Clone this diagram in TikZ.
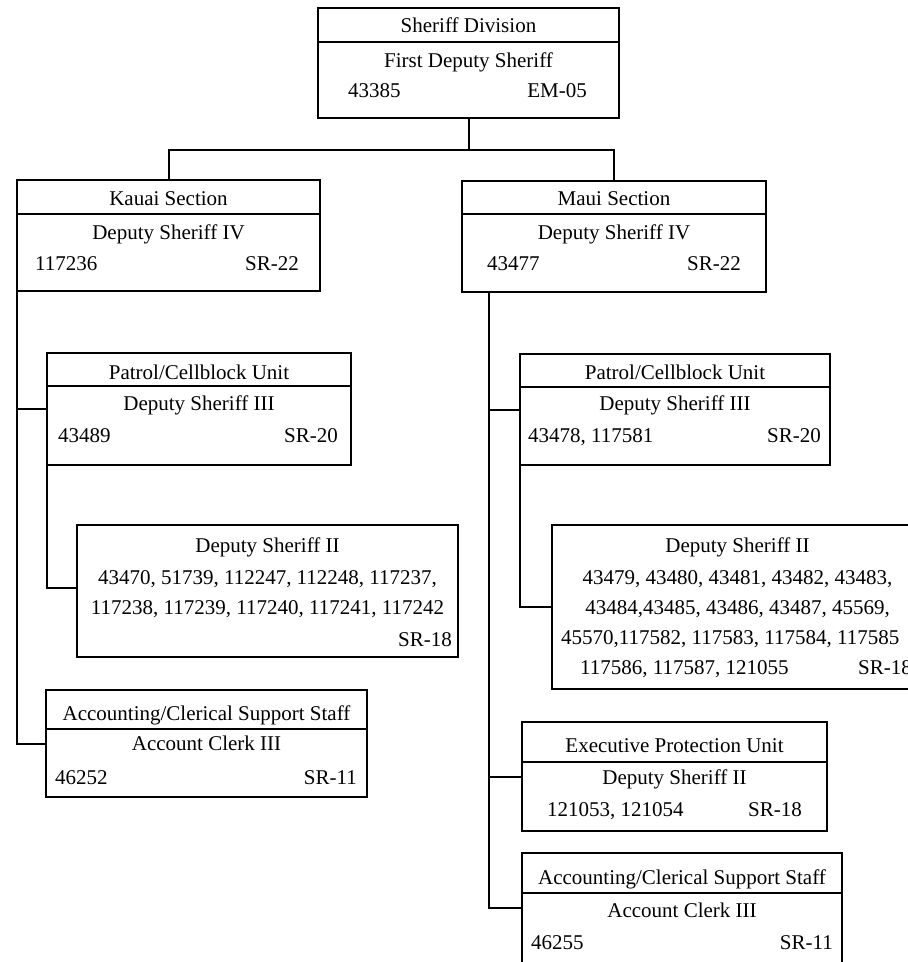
\documentclass[tikz,border=0pt]{standalone}
\usepackage{fontspec}
\setmainfont{Liberation Serif}
\begin{document}
\begin{tikzpicture}[x=1pt,y=-1pt,
  box/.style={draw, line width=2pt, inner sep=0pt, outer sep=0pt, anchor=north west},
  lbl/.style={inner sep=0pt, font=\fontsize{21}{26}\selectfont},
  conn/.style={line width=2pt},
  divl/.style={line width=2pt}]
\clip (0,0) rectangle (908,962);
% ---------- boxes ----------
\node[box, minimum width=301pt, minimum height=110pt] (T)  at (318,8)   {};
\node[box, minimum width=303pt, minimum height=111pt] (K)  at (17,180)  {};
\node[box, minimum width=304pt, minimum height=111pt] (M)  at (462,181) {};
\node[box, minimum width=304pt, minimum height=112pt] (KP) at (47,353)  {};
\node[box, minimum width=310pt, minimum height=111pt] (MP) at (520,354) {};
\node[box, minimum width=381pt, minimum height=132pt] (KD) at (77,525)  {};
\node[box, minimum width=371pt, minimum height=164pt] (MD) at (552,525) {};
\node[box, minimum width=321pt, minimum height=107pt] (KA) at (46,690)  {};
\node[box, minimum width=305pt, minimum height=109pt] (EP) at (522,722) {};
\node[box, minimum width=320pt, minimum height=112pt] (MA) at (522,853) {};
% ---------- dividers ----------
\draw[divl] ([yshift=-34pt]T.north west)  -- ([yshift=-34pt]T.north east);
\draw[divl] ([yshift=-34pt]K.north west)  -- ([yshift=-34pt]K.north east);
\draw[divl] ([yshift=-33pt]M.north west)  -- ([yshift=-33pt]M.north east);
\draw[divl] ([yshift=-33pt]KP.north west) -- ([yshift=-33pt]KP.north east);
\draw[divl] ([yshift=-33pt]MP.north west) -- ([yshift=-33pt]MP.north east);
\draw[divl] ([yshift=-39pt]KA.north west) -- ([yshift=-39pt]KA.north east);
\draw[divl] ([yshift=-40pt]EP.north west) -- ([yshift=-40pt]EP.north east);
\draw[divl] ([yshift=-40pt]MA.north west) -- ([yshift=-40pt]MA.north east);
% ---------- texts ----------
% Top
\node[lbl, anchor=base] (t1) at (468.5,32) {Sheriff Division};
\node[lbl, anchor=base] (t2) at (468.5,67) {First Deputy Sheriff};
\node[lbl, anchor=base west] (t3) at (348,97) {43385};
\node[lbl, anchor=base east] (t4) at (587,97) {EM-05};
% Kauai
\node[lbl, anchor=base] (k1) at (168.5,205) {Kauai Section};
\node[lbl, anchor=base] (k2) at (168.5,239) {Deputy Sheriff IV};
\node[lbl, anchor=base west] (k3) at (35,270) {117236};
\node[lbl, anchor=base east] (k4) at (299,270) {SR-22};
% Maui
\node[lbl, anchor=base] (m1) at (614,205) {Maui Section};
\node[lbl, anchor=base] (m2) at (614,239) {Deputy Sheriff IV};
\node[lbl, anchor=base west] (m3) at (487,270) {43477};
\node[lbl, anchor=base east] (m4) at (741,270) {SR-22};
% Kauai patrol
\node[lbl, anchor=base] (kp1) at (199,379) {Patrol/Cellblock Unit};
\node[lbl, anchor=base] (kp2) at (199,410) {Deputy Sheriff III};
\node[lbl, anchor=base west] (kp3) at (58,442) {43489};
\node[lbl, anchor=base east] (kp4) at (338,442) {SR-20};
% Maui patrol
\node[lbl, anchor=base] (mp1) at (675,379) {Patrol/Cellblock Unit};
\node[lbl, anchor=base] (mp2) at (675,410) {Deputy Sheriff III};
\node[lbl, anchor=base west] (mp3) at (528,442) {43478, 117581};
\node[lbl, anchor=base east] (mp4) at (821,442) {SR-20};
% Kauai DS II
\node[lbl, anchor=base] (kd1) at (267.5,552) {Deputy Sheriff II};
\node[lbl, anchor=base] (kd2) at (267.5,584) {43470, 51739, 112247, 112248, 117237,};
\node[lbl, anchor=base] (kd3) at (267.5,614) {117238, 117239, 117240, 117241, 117242};
\node[lbl, anchor=base east] (kd4) at (452,646) {SR-18};
% Maui DS II
\node[lbl, anchor=base] (md1) at (737.5,552) {Deputy Sheriff II};
\node[lbl, anchor=base] (md2) at (737.5,584) {43479, 43480, 43481, 43482, 43483,};
\node[lbl, anchor=base] (md3) at (737.5,614) {43484,43485, 43486, 43487, 45569,};
\node[lbl, anchor=base west] (md4) at (561,644) {45570,117582, 117583, 117584, 117585};
\node[lbl, anchor=base west] (md5) at (580,674) {117586, 117587, 121055};
\node[lbl, anchor=base west] (md6) at (858,674) {SR-18};
% Kauai accounting
\node[lbl, anchor=base] (ka1) at (206.5,720) {Accounting/Clerical Support Staff};
\node[lbl, anchor=base] (ka2) at (206.5,750) {Account Clerk III};
\node[lbl, anchor=base west] (ka3) at (55,784) {46252};
\node[lbl, anchor=base east] (ka4) at (357,784) {SR-11};
% Executive protection
\node[lbl, anchor=base] (ep1) at (674.5,752) {Executive Protection Unit};
\node[lbl, anchor=base] (ep2) at (674.5,784) {Deputy Sheriff II};
\node[lbl, anchor=base west] (ep3) at (547,816) {121053, 121054};
\node[lbl, anchor=base east] (ep4) at (802,816) {SR-18};
% Maui accounting
\node[lbl, anchor=base] (ma1) at (682,884) {Accounting/Clerical Support Staff};
\node[lbl, anchor=base] (ma2) at (682,917) {Account Clerk III};
\node[lbl, anchor=base west] (ma3) at (531,949) {46255};
\node[lbl, anchor=base east] (ma4) at (833,949) {SR-11};
% ---------- connectors ----------
\coordinate (bus) at (468.5,150);
\draw[conn] (T.south) -- (bus);
\draw[conn] (bus) -| (K.north);
\draw[conn] (bus) -| (M.north);
\draw[conn] (K.south west) |- (KA.west);
\draw[conn] (K.south west) |- (KP.west);
\draw[conn] (KP.south west) |- ([yshift=-63pt]KD.north west);
\coordinate (ms) at ([xshift=27pt]M.south west);
\draw[conn] (ms) |- ([yshift=-55pt]MA.north west);
\draw[conn] (ms) |- (MP.west);
\draw[conn] (ms) |- (EP.west);
\draw[conn] (MP.south west) |- (MD.west);
\end{tikzpicture}
\end{document}
